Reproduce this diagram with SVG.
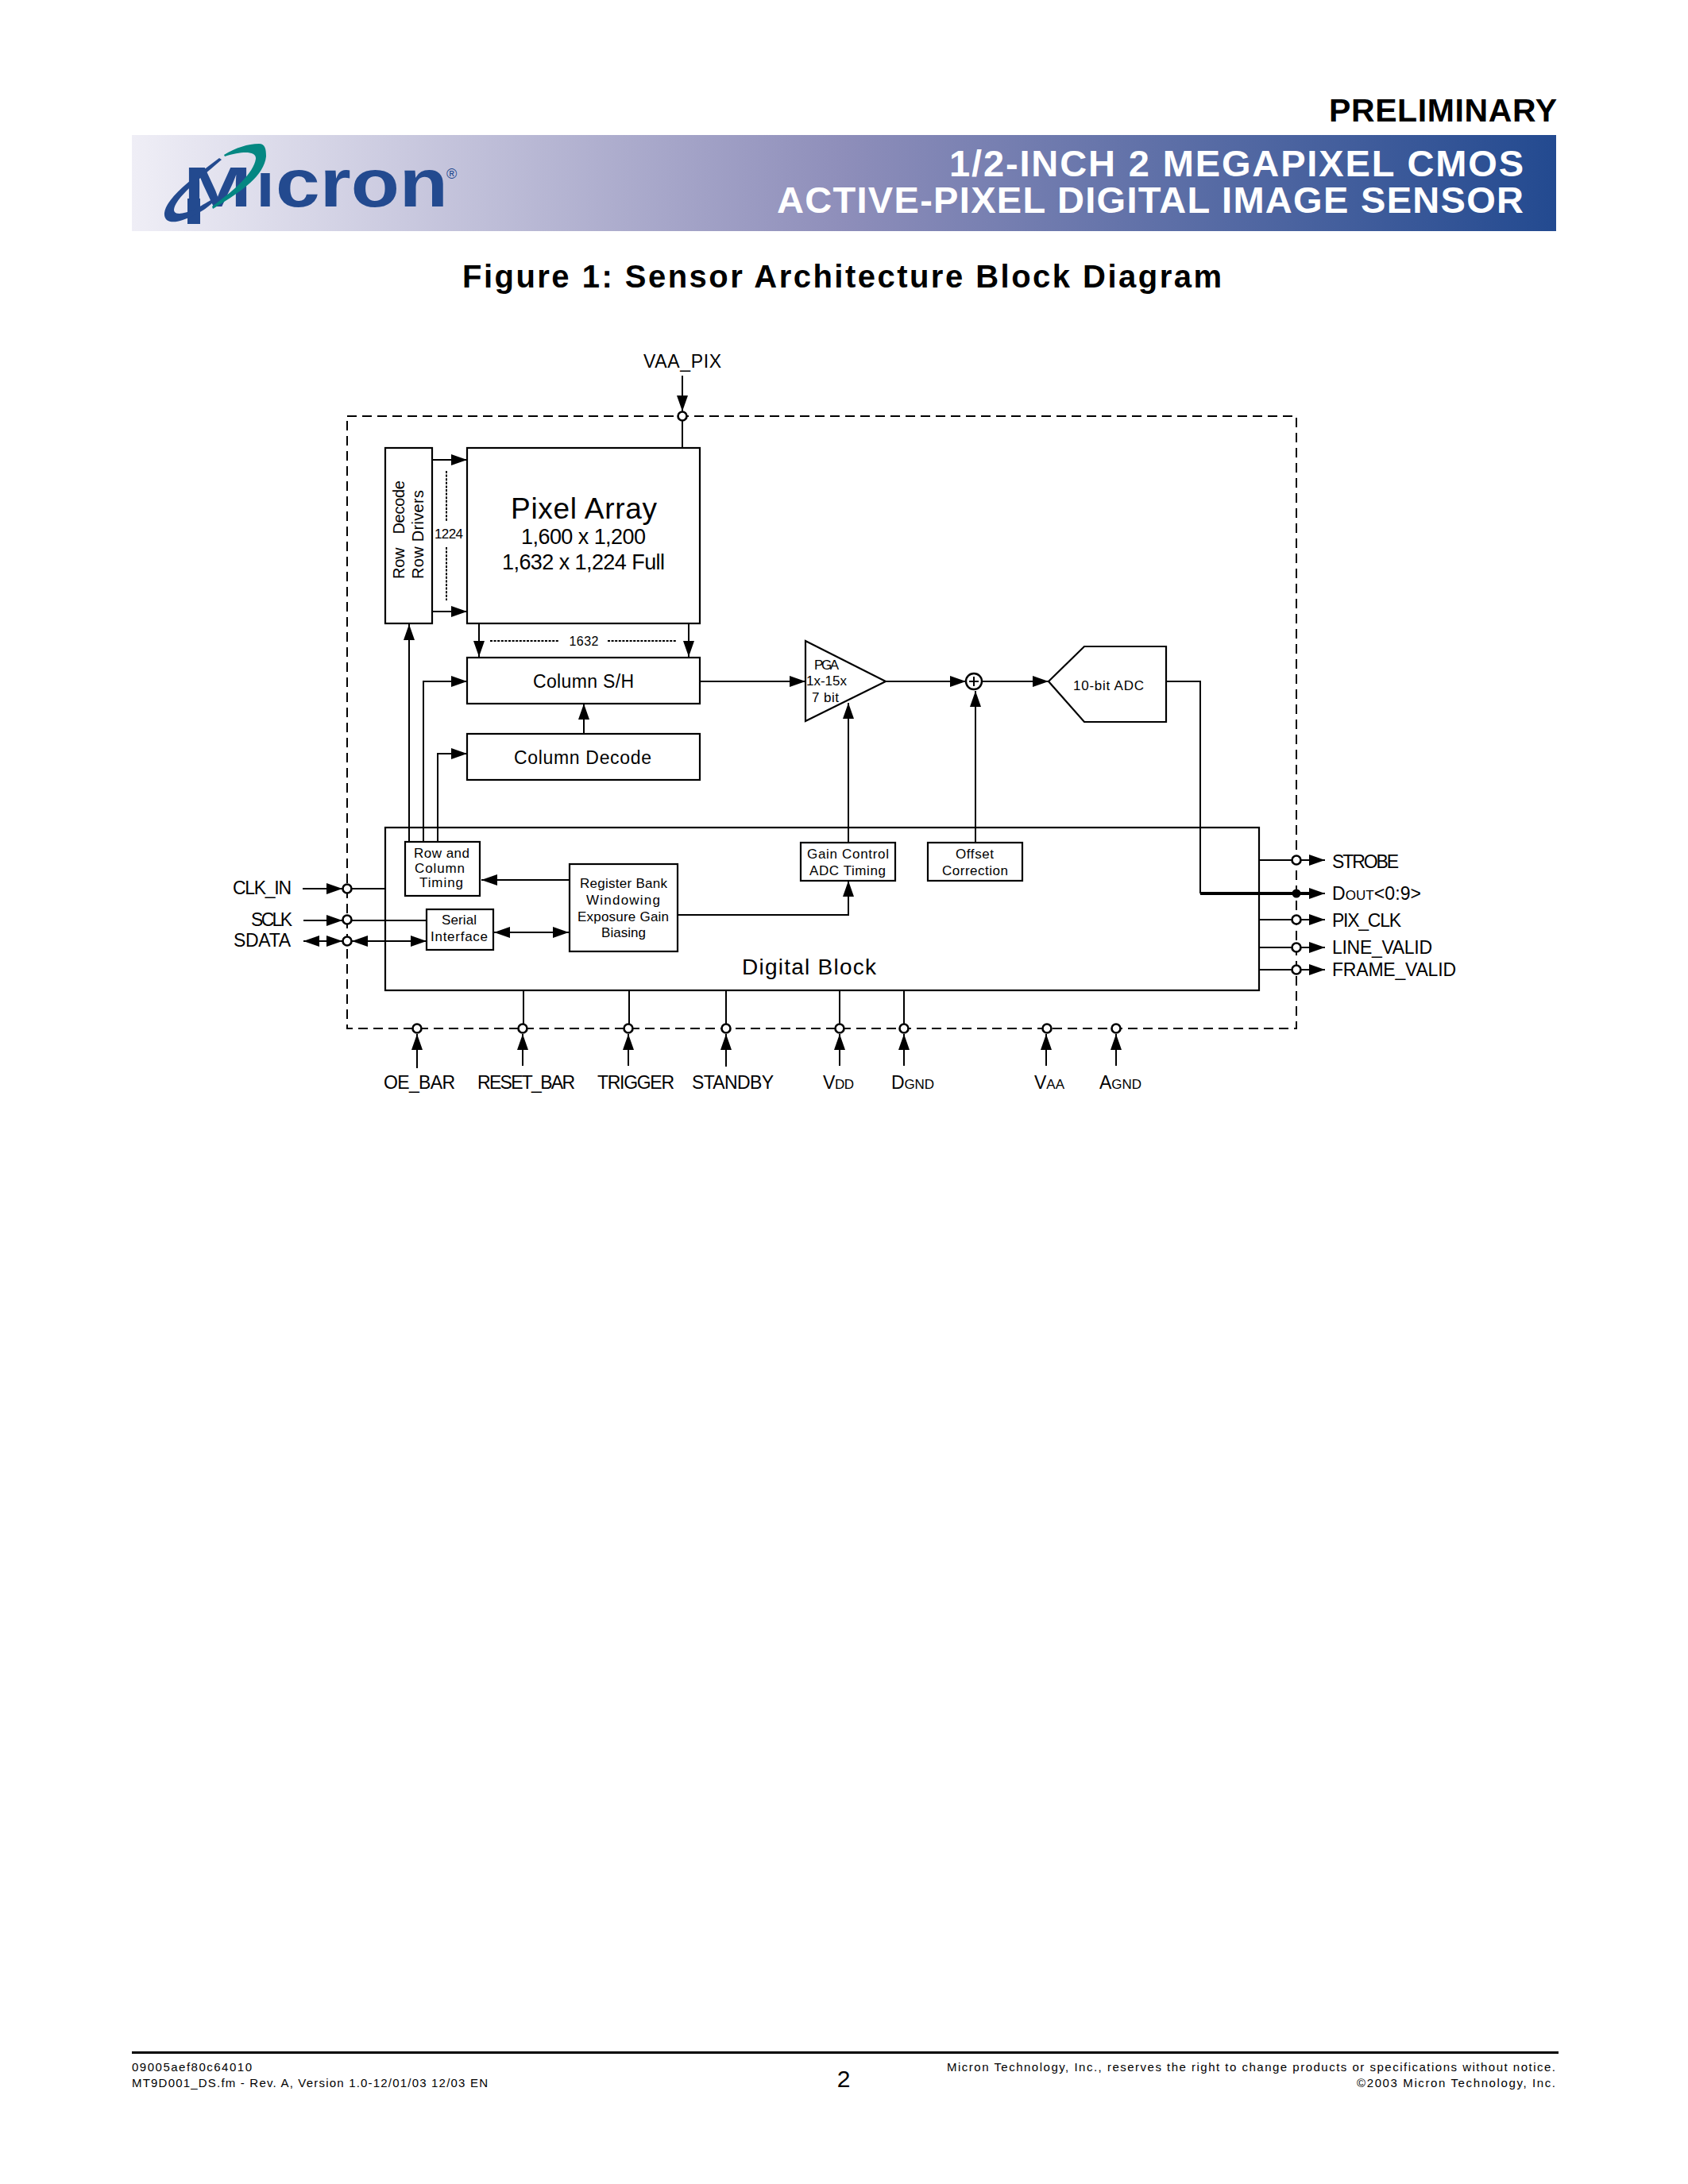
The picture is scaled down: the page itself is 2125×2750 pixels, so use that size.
<svg xmlns="http://www.w3.org/2000/svg" width="2125" height="2750" viewBox="0 0 2125 2750">
<style>
text{font-family:"Liberation Sans",Arial,sans-serif;fill:#000}
.b{font-weight:bold}
.box{fill:#fff;stroke:#000;stroke-width:2.2}
.ln{fill:none;stroke:#000;stroke-width:2}
.ar{marker-end:url(#a)}
.dbl{marker-start:url(#a);marker-end:url(#a)}
.dot{fill:none;stroke:#000;stroke-width:2;stroke-dasharray:3 1.6}
.port{fill:#fff;stroke:#000;stroke-width:2.6}
.s23{font-size:23px}.s17{font-size:17px}.s18{font-size:18px}
.w{fill:#fff;font-weight:bold;font-size:47px}
.logo{fill:#234a8f;font-weight:bold}
.ft{font-size:15px}
</style>
<defs>
<linearGradient id="g" x1="0" x2="1" y1="0" y2="0">
<stop offset="0" stop-color="#efeef6"/><stop offset="0.5" stop-color="#8e8eba"/><stop offset="1" stop-color="#234a90"/>
</linearGradient>
<marker id="a" viewBox="0 0 20 14" refX="20" refY="7" markerUnits="userSpaceOnUse" markerWidth="20" markerHeight="14" orient="auto-start-reverse"><path d="M0 0L20 7L0 14Z" fill="#000"/></marker>
</defs>
<rect width="2125" height="2750" fill="#fff"/>
<g id="header">
<text class="b" x="1673" y="153" font-size="41" textLength="287">PRELIMINARY</text>
<rect x="166" y="170" width="1793" height="121" fill="url(#g)"/>
<text class="w" x="1195" y="222" textLength="723">1/2-INCH 2 MEGAPIXEL CMOS</text>
<text class="w" x="978" y="268" textLength="940">ACTIVE-PIXEL DIGITAL IMAGE SENSOR</text>
<g id="logo">
<rect x="236" y="250" width="16" height="32" fill="#234a8f"/>
<path d="M276 199L279 201C250 226 220 250 219 264C219 272 232 269 244 264C252 260 262 254 267 251L269 254C258 265 244 272 230 277C216 282 206 279 207 268C209 250 240 226 276 199Z" fill="#234a8f"/>
<text class="logo" x="231" y="260" font-size="71" textLength="86" lengthAdjust="spacingAndGlyphs">M</text>
<text class="logo" x="323" y="260" font-size="62" textLength="22" lengthAdjust="spacingAndGlyphs">I</text>
<text class="logo" x="347" y="260" font-size="86" textLength="217" lengthAdjust="spacingAndGlyphs">cron</text>
<path d="M282 195C297 186 312 181 326 181C334 181 335 188 335 197C332 225 295 246 268 263L267 260C290 243 319 220 322 200C323 190 305 190 283 197Z" fill="#048782"/>
<text x="562" y="225" font-size="18" style="fill:#234a8f">®</text>
</g>
<text class="b" x="582" y="362" font-size="40" textLength="956">Figure 1: Sensor Architecture Block Diagram</text>
</g>
<g id="boundary"><rect x="437" y="524" width="1195" height="771" fill="none" stroke="#000" stroke-width="2" stroke-dasharray="12 7"/></g>
<g id="row-decode"><rect class="box" x="485" y="564" width="59" height="221"/>
<text transform="rotate(-90 509 729)" x="509" y="729" font-size="20" word-spacing="12" textLength="124">Row Decode</text>
<text transform="rotate(-90 533 729)" x="533" y="729" font-size="20" textLength="112">Row Drivers</text></g>
<g id="pixel-array"><rect class="box" x="588" y="564" width="293" height="221"/>
<text x="643" y="653" font-size="37" textLength="184">Pixel Array</text>
<text x="656" y="685" font-size="27" textLength="157">1,600 x 1,200</text>
<text x="632" y="717" font-size="27" textLength="205">1,632 x 1,224 Full</text></g>
<g id="column-sh"><rect class="box" x="588" y="828" width="293" height="58"/><text class="s23" x="671" y="866" textLength="127">Column S/H</text></g>
<g id="column-decode"><rect class="box" x="588" y="924" width="293" height="58"/><text class="s23" x="647" y="962" textLength="173">Column Decode</text></g>
<g id="pga"><path class="box" d="M1014 807L1115 858L1014 908Z"/>
<text class="s17" x="1025" y="843" textLength="31">PGA</text>
<text class="s17" x="1015" y="863" textLength="51">1x-15x</text>
<text class="s17" x="1022" y="884" textLength="34">7 bit</text></g>
<g id="sum"><circle cx="1226" cy="858" r="10" fill="#fff" stroke="#000" stroke-width="2.4"/><path class="ln" d="M1220 858H1232M1226 852V864"/></g>
<g id="adc"><path class="box" d="M1320 858L1365 814H1468V909H1365Z"/><text class="s17" x="1351" y="869" textLength="89">10-bit ADC</text></g>
<g id="digital-block"><rect class="box" x="485" y="1042" width="1100" height="205"/><text x="934" y="1227" font-size="28" textLength="169">Digital Block</text></g>
<g id="connectors">
<path class="ln ar" d="M859 473V518"/>
<path class="ln" d="M859 530V564"/>
<path class="ln ar" d="M544 579H588"/>
<path class="ln ar" d="M544 770H588"/>
<path class="dot" d="M562 593V657M562 689V756M617 807H703M765 807H852"/>
<path class="ln ar" d="M603 785V827"/>
<path class="ln ar" d="M867 785V827"/>
<path class="ln ar" d="M735 924V886"/>
<path class="ln ar" d="M881 858H1014"/>
<path class="ln ar" d="M1115 858H1216"/>
<path class="ln ar" d="M1236 858H1320"/>
<path class="ln" d="M1468 858H1511V1125"/>
<path d="M1511 1125H1648" fill="none" stroke="#000" stroke-width="4"/>
<path class="ln ar" d="M515 1060V786"/>
<path class="ln ar" d="M533 1060V858H588"/>
<path class="ln ar" d="M551 1060V949H588"/>
<path class="ln ar" d="M1068 1061V885"/>
<path class="ln ar" d="M1228 1061V870"/>
<path class="ln ar" d="M717 1108H606"/>
<path class="ln dbl" d="M622 1174H716"/>
<path class="ln ar" d="M853 1152H1068V1109"/>
<path class="ln ar" d="M381 1119H431"/>
<path class="ln" d="M443 1119H485"/>
<path class="ln ar" d="M382 1159H431"/>
<path class="ln" d="M443 1159H537"/>
<path class="ln" d="M382 1185H431" marker-start="url(#a)" marker-end="url(#a)"/>
<path class="ln dbl" d="M443 1185H537"/>
<path class="ln" d="M659 1247V1290M792 1247V1290M914 1247V1290M1057 1247V1290M1138 1247V1290"/>
<path class="ln ar" d="M525 1345V1302"/>
<path class="ln ar" d="M658 1342V1302"/>
<path class="ln ar" d="M791 1342V1302"/>
<path class="ln ar" d="M914 1343V1302"/>
<path class="ln ar" d="M1057 1342V1302"/>
<path class="ln ar" d="M1138 1342V1302"/>
<path class="ln ar" d="M1317 1342V1302"/>
<path class="ln ar" d="M1405 1342V1302"/>
<path class="ln" d="M1585 1083H1627M1585 1158H1627M1585 1193H1627M1585 1221H1627"/>
<path class="ln ar" d="M1638 1083H1668"/><path class="ln ar" d="M1638 1125H1668"/><path class="ln ar" d="M1638 1158H1668"/><path class="ln ar" d="M1638 1193H1668"/><path class="ln ar" d="M1638 1221H1668"/>
</g>
<g id="ports">
<circle class="port" cx="859" cy="524" r="5.5"/>
<circle class="port" cx="437" cy="1119" r="5.5"/><circle class="port" cx="437" cy="1158" r="5.5"/><circle class="port" cx="437" cy="1185" r="5.5"/>
<circle class="port" cx="525" cy="1295" r="5.5"/><circle class="port" cx="658" cy="1295" r="5.5"/><circle class="port" cx="791" cy="1295" r="5.5"/><circle class="port" cx="914" cy="1295" r="5.5"/><circle class="port" cx="1057" cy="1295" r="5.5"/><circle class="port" cx="1138" cy="1295" r="5.5"/><circle class="port" cx="1318" cy="1295" r="5.5"/><circle class="port" cx="1405" cy="1295" r="5.5"/>
<circle class="port" cx="1632" cy="1083" r="5.5"/><circle class="port" cx="1632" cy="1158" r="5.5"/><circle class="port" cx="1632" cy="1193" r="5.5"/><circle class="port" cx="1632" cy="1221" r="5.5"/>
<circle cx="1632" cy="1125" r="5.5" fill="#000"/>
</g>
<g id="row-column-timing"><rect class="box" x="510" y="1060" width="94" height="68"/>
<text class="s17" x="521" y="1080" textLength="70">Row and</text><text class="s17" x="522" y="1099" textLength="63">Column</text><text class="s17" x="528" y="1117" textLength="55">Timing</text></g>
<g id="serial-interface"><rect class="box" x="537" y="1145" width="84" height="51"/>
<text class="s17" x="556" y="1164" textLength="44">Serial</text><text class="s17" x="542" y="1185" textLength="72">Interface</text></g>
<g id="register-bank"><rect class="box" x="717" y="1088" width="136" height="110"/>
<text class="s17" x="730" y="1118" textLength="110">Register Bank</text><text class="s17" x="738" y="1139" textLength="93">Windowing</text><text class="s17" x="727" y="1160" textLength="115">Exposure Gain</text><text class="s17" x="757" y="1180" textLength="56">Biasing</text></g>
<g id="gain-control"><rect class="box" x="1008" y="1061" width="119" height="48"/>
<text class="s17" x="1016" y="1081" textLength="103">Gain Control</text><text class="s17" x="1019" y="1102" textLength="96">ADC Timing</text></g>
<g id="offset-correction"><rect class="box" x="1168" y="1061" width="119" height="48"/>
<text class="s17" x="1203" y="1081" textLength="48">Offset</text><text class="s17" x="1186" y="1102" textLength="83">Correction</text></g>
<g id="labels">
<text x="565" y="678" text-anchor="middle" font-size="17" textLength="36">1224</text>
<text x="735" y="813" text-anchor="middle" font-size="16" textLength="37">1632</text>
<text class="s23" x="810" y="463" textLength="98">VAA_PIX</text>
<text class="s23" x="293" y="1126" textLength="74">CLK_IN</text>
<text class="s23" x="316" y="1166" textLength="52">SCLK</text>
<text class="s23" x="294" y="1192" textLength="72">SDATA</text>
<text class="s23" x="483" y="1371" textLength="90">OE_BAR</text>
<text class="s23" x="601" y="1371" textLength="123">RESET_BAR</text>
<text class="s23" x="752" y="1371" textLength="97">TRIGGER</text>
<text class="s23" x="871" y="1371" textLength="103">STANDBY</text>
<text class="s23" x="1036" y="1371" textLength="39">V<tspan font-size="17">DD</tspan></text>
<text class="s23" x="1122" y="1371" textLength="54">D<tspan font-size="17">GND</tspan></text>
<text class="s23" x="1302" y="1371" textLength="38">V<tspan font-size="17">AA</tspan></text>
<text class="s23" x="1384" y="1371" textLength="53">A<tspan font-size="17">GND</tspan></text>
<text class="s23" x="1677" y="1093" textLength="84">STROBE</text>
<text class="s23" x="1677" y="1133" textLength="112">D<tspan font-size="17">OUT</tspan>&lt;0:9&gt;</text>
<text class="s23" x="1677" y="1167" textLength="87">PIX_CLK</text>
<text class="s23" x="1677" y="1201" textLength="126">LINE_VALID</text>
<text class="s23" x="1677" y="1229" textLength="156">FRAME_VALID</text>
</g>
<g id="footer">
<rect x="166" y="2583" width="1796" height="3"/>
<text class="ft" x="166" y="2608" textLength="151">09005aef80c64010</text>
<text class="ft" x="166" y="2628" textLength="448">MT9D001_DS.fm - Rev. A, Version 1.0-12/01/03 12/03 EN</text>
<text x="1062" y="2628" text-anchor="middle" font-size="30">2</text>
<text class="ft" x="1192" y="2608" textLength="766">Micron Technology, Inc., reserves the right to change products or specifications without notice.</text>
<text class="ft" x="1708" y="2628" textLength="250">©2003 Micron Technology, Inc.</text>
</g>
</svg>
